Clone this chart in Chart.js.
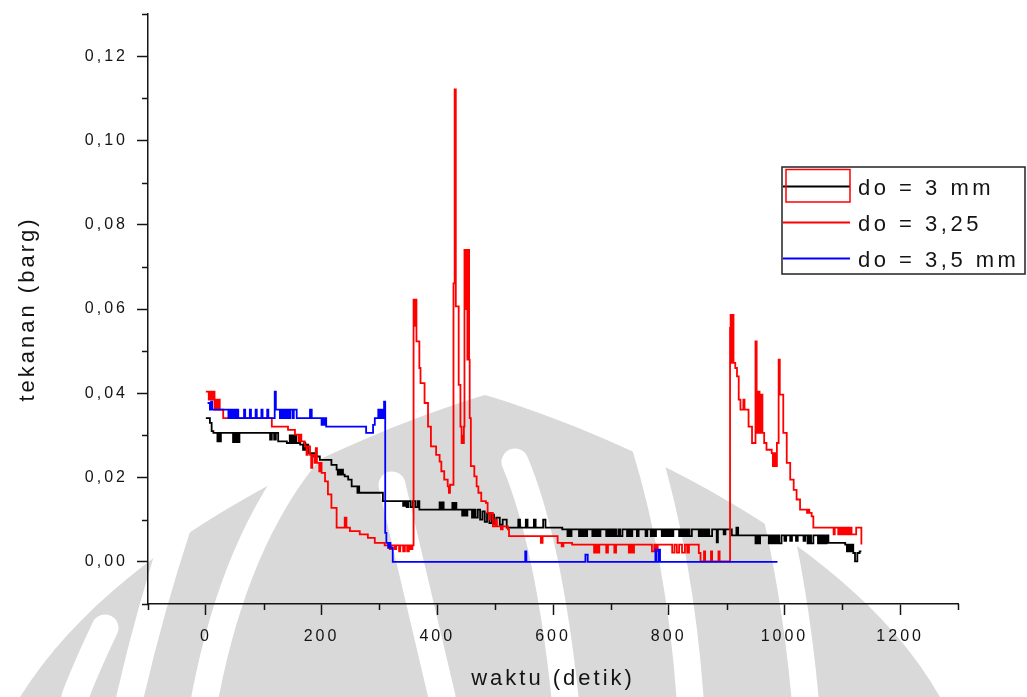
<!DOCTYPE html>
<html>
<head>
<meta charset="utf-8">
<script src="https://cdn.jsdelivr.net/npm/chart.js@4.4.1/dist/chart.umd.min.js"></script>
<style>
  html, body { margin: 0; padding: 0; background: #fff; }
  #wrap { width: 1027px; height: 697px; position: relative; }
</style>
</head>
<body>
<div id="wrap"><canvas id="grafTekanan"></canvas></div>
<script>
// waktu (detik), tekanan (barg)
var black3mm = [
  [0, .0341], [7, .0330], [10, .0310], [13, .0306], [20, .0286], [22, .0306], [24, .0286], [26, .0306],
  [47, .0284], [49, .0306], [52, .0284], [54, .0306], [56, .0284], [58, .0306],
  [111, .0290], [114, .0306], [118, .0290], [121, .0306], [125, .0286], [140, .0282],
  [145, .0300], [147, .0282], [149, .0300], [151, .0282], [153, .0300], [156, .0282],
  [163, .0278], [168, .0266], [170, .0282], [172, .0266], [174, .0278], [177, .0258],
  [187, .0250], [189, .0258], [191, .0250], [197, .0242], [217, .0230], [226, .0219],
  [228, .0207], [230, .0219], [232, .0207], [234, .0219], [237, .0207], [240, .0203],
  [246, .0195], [252, .0179], [262, .0164], [263, .0179], [265, .0164], [306, .0144],
  [341, .0133], [344, .0144], [347, .0130], [350, .0144], [354, .0130], [358, .0144],
  [362, .0130], [366, .0144], [369, .0124], [404, .0141], [406, .0124], [408, .0141],
  [411, .0124], [426, .0140], [428, .0124], [431, .0140], [433, .0124], [443, .0110],
  [446, .0124], [449, .0110], [452, .0124], [460, .0105], [463, .0124], [466, .0105],
  [470, .0124], [474, .0100], [478, .0120], [482, .0095], [486, .0115], [490, .0092],
  [494, .0112], [498, .0090], [502, .0105], [508, .0088], [513, .0100], [520, .0081],
  [540, .0100], [543, .0081], [553, .0100], [556, .0081], [567, .0100], [570, .0081],
  [583, .0100], [587, .0081], [616, .0077],
  [625, .0061], [628, .0077], [630, .0061], [632, .0077],
  [645, .0061], [648, .0077], [651, .0061], [654, .0077], [657, .0061], [659, .0077],
  [668, .0061], [671, .0077], [674, .0061], [677, .0077], [680, .0061], [682, .0077],
  [692, .0061], [695, .0077], [698, .0061], [701, .0077], [704, .0061], [706, .0077],
  [709, .0061], [713, .0077], [716, .0061], [720, .0077], [728, .0061], [731, .0077],
  [734, .0061], [737, .0077], [745, .0061], [748, .0077], [760, .0061], [763, .0077],
  [769, .0061], [772, .0077], [775, .0061], [778, .0077],
  [788, .0061], [791, .0077], [794, .0061], [797, .0077], [800, .0061], [803, .0077], [806, .0061], [808, .0077],
  [818, .0061], [821, .0077], [824, .0061], [827, .0077], [830, .0061], [833, .0077], [836, .0061], [840, .0077],
  [852, .0061], [855, .0077], [858, .0061], [861, .0077], [864, .0061], [867, .0077], [870, .0061], [875, .0077],
  [883, .0046], [885, .0077], [895, .0065], [898, .0077], [909, .0063], [917, .0081], [920, .0063],
  [950, .0044], [952, .0063], [955, .0044], [958, .0063],
  [973, .0044], [976, .0063], [979, .0044], [982, .0063], [985, .0044], [988, .0063], [991, .0044], [995, .0063],
  [1000, .0050], [1003, .0063], [1010, .0050], [1013, .0063], [1020, .0050], [1023, .0063],
  [1033, .0050], [1036, .0063], [1040, .0044], [1043, .0063], [1046, .0044], [1050, .0063],
  [1058, .0044], [1061, .0063], [1064, .0044], [1067, .0063], [1070, .0044], [1073, .0063],
  [1076, .0045], [1105, .0041], [1108, .0025], [1110, .0041], [1113, .0025], [1116, .0041],
  [1119, .0021], [1122, .0001], [1126, .0021], [1130, .0025], [1133, .0025]
];

var red325 = [
  [0, .0404], [5, .0385], [8, .0404], [10, .0385], [13, .0404], [15, .0361], [17, .0385], [19, .0361],
  [22, .0385], [24, .0361], [30, .0341], [114, .0321], [142, .0313], [154, .0302], [160, .0286],
  [162, .0302], [165, .0286], [171, .0274], [174, .0254], [176, .0274], [180, .0254], [182, .0223],
  [184, .0254], [188, .0235], [190, .0270], [192, .0235], [196, .0215], [198, .0235], [200, .0211],
  [206, .0191], [211, .0160], [217, .0128], [226, .0081], [240, .0105], [243, .0081], [249, .0073],
  [266, .0065], [280, .0057], [292, .0045], [309, .0039], [318, .0030], [321, .0039], [326, .0030],
  [329, .0039], [334, .0025], [336, .0039], [341, .0025], [344, .0039], [348, .0025], [351, .0039],
  [354, .0030], [357, .0039],
  [359, .0622], [361, .0560], [362, .0622], [364, .0523], [369, .0460], [371, .0424], [378, .0377],
  [384, .0321], [389, .0274], [398, .0254], [404, .0238], [407, .0215], [412, .0195], [418, .0179],
  [420, .0164], [422, .0183], [428, .0661], [430, .1121], [432, .0606], [437, .0420], [440, .0321],
  [442, .0282], [443, .0300], [444, .0282], [446, .0321], [447, .0740], [449, .0600], [450, .0740],
  [452, .0480], [454, .0740], [455, .0480], [456, .0341], [458, .0227], [464, .0203], [468, .0179],
  [471, .0164], [476, .0144], [484, .0140], [487, .0116], [490, .0100], [492, .0116], [496, .0084],
  [500, .0100], [503, .0084], [510, .0077], [513, .0084], [522, .0077], [524, .0061], [579, .0045],
  [582, .0061], [608, .0045], [615, .0037], [618, .0045], [633, .0041],
  [671, .0022], [674, .0041], [677, .0022], [680, .0041], [692, .0022], [695, .0041], [706, .0022], [709, .0041],
  [731, .0022], [734, .0041], [737, .0022], [740, .0041], [771, .0025], [775, .0041], [778, .0025], [781, .0041],
  [806, .0022], [810, .0041], [814, .0022], [818, .0041], [823, .0022], [828, .0041], [832, .0022], [835, .0041],
  [852, .0021], [855, .0001], [861, .0025], [863, .0001], [873, .0025], [875, .0001], [886, .0025], [888, .0001],
  [906, .0555], [907, .0586], [909, .0472], [910, .0586], [912, .0472], [915, .0460], [918, .0440],
  [921, .0385], [924, .0361], [929, .0385], [931, .0361], [938, .0321], [944, .0282], [950, .0523],
  [952, .0404], [953, .0306], [955, .0404], [957, .0306], [959, .0397], [962, .0306], [965, .0282],
  [969, .0266], [978, .0258], [980, .0227], [982, .0258], [984, .0227], [987, .0282], [990, .0480],
  [992, .0397], [998, .0306], [1004, .0235], [1010, .0195], [1016, .0171], [1021, .0148], [1027, .0124],
  [1039, .0116], [1041, .0124], [1043, .0116], [1047, .0108], [1050, .0081], [1085, .0065],
  [1087, .0081], [1093, .0065], [1095, .0081], [1098, .0065], [1101, .0081], [1104, .0065],
  [1107, .0081], [1110, .0065], [1113, .0081], [1116, .0065], [1124, .0081], [1133, .0041]
];

var blue35mm = [
  [3, .0377], [7, .0361], [9, .0380], [11, .0361],
  [39, .0341], [41, .0361], [43, .0341], [45, .0361], [47, .0341], [49, .0361], [51, .0341], [53, .0361], [56, .0341],
  [66, .0361], [68, .0341], [76, .0361], [78, .0341], [86, .0361], [88, .0341], [96, .0361], [98, .0341],
  [106, .0361], [108, .0341], [119, .0404], [121, .0361],
  [128, .0341], [130, .0361], [132, .0341], [134, .0361], [136, .0341], [138, .0361], [140, .0341],
  [142, .0361], [144, .0341], [146, .0361], [150, .0341], [152, .0361], [157, .0341],
  [180, .0361], [183, .0341], [200, .0325], [202, .0341], [204, .0325], [206, .0341], [208, .0321],
  [277, .0306], [289, .0325], [292, .0341], [298, .0361], [300, .0341], [303, .0361], [305, .0341],
  [308, .0380], [310, .0069], [312, .0045], [315, .0033], [317, .0045], [319, .0033], [323, .0000],
  [552, .0025], [554, .0000], [656, .0017], [660, .0000], [777, .0029], [779, .0000], [783, .0029],
  [785, .0000], [988, .0000]
];

var seriesNames = ['do = 3 mm', 'do = 3,25', 'do = 3,5 mm'];
var seriesColors = ['#000000', '#ff0000', '#0000ff'];

var xTickValues = [0, 200, 400, 600, 800, 1000, 1200];
var xTickLabels = ['0', '200', '400', '600', '800', '1000', '1200'];
var xMinorTicks = [-100, 100, 300, 500, 700, 900, 1100, 1300];
var yTickValues = [0, 0.02, 0.04, 0.06, 0.08, 0.10, 0.12];
var yTickLabels = ['0,00', '0,02', '0,04', '0,06', '0,08', '0,10', '0,12'];
var yMinorTicks = [-0.01, 0.01, 0.03, 0.05, 0.07, 0.09, 0.11, 0.13];

var FONT = "'Liberation Sans', Arial, sans-serif";
var TEXT = '#141414';

function toPoints(rows) {
  return rows.map(function (r) { return { x: r[0], y: r[1] }; });
}

// latar: logo samar di belakang grafik
var watermark = {
  id: 'watermark',
  beforeDraw: function (chart) {
    var c = chart.ctx;
    c.save();
    c.fillStyle = '#d9d9d9';
    c.beginPath();
    c.moveTo(20, 697);
    c.bezierCurveTo(130, 520, 400, 420, 485, 395);
    c.bezierCurveTo(570, 420, 840, 520, 940, 697);
    c.closePath();
    c.fill();
    c.strokeStyle = '#ffffff';
    c.lineCap = 'round';
    c.lineWidth = 27;
    c.beginPath();
    c.moveTo(392, 485); c.quadraticCurveTo(410, 560, 442, 697);
    c.moveTo(515, 462); c.quadraticCurveTo(548, 540, 565, 697);
    c.moveTo(310, 450); c.quadraticCurveTo(235, 540, 205, 697);
    c.moveTo(645, 445); c.quadraticCurveTo(680, 560, 690, 697);
    c.moveTo(772, 495); c.quadraticCurveTo(795, 590, 805, 697);
    c.moveTo(178, 525); c.quadraticCurveTo(150, 610, 130, 697);
    c.moveTo(105, 628); c.quadraticCurveTo(85, 670, 75, 697);
    c.stroke();
    c.restore();
    c.letterSpacing = '3px';
  }
};

// garis skala kecil + legenda berbingkai
var extras = {
  id: 'extras',
  afterDraw: function (chart) {
    var c = chart.ctx;
    var xs = chart.scales.x, ys = chart.scales.y;
    var a = chart.chartArea;
    c.save();
    c.strokeStyle = TEXT;
    c.lineWidth = 1.5;
    c.beginPath();
    xMinorTicks.forEach(function (v) {
      var px = Math.round(xs.getPixelForValue(v)) + 0.5;
      c.moveTo(px, a.bottom); c.lineTo(px, a.bottom + 6);
    });
    yMinorTicks.forEach(function (v) {
      var py = Math.round(ys.getPixelForValue(v)) + 0.5;
      c.moveTo(a.left - 6, py); c.lineTo(a.left, py);
    });
    c.stroke();

    // legenda
    c.fillStyle = '#ffffff';
    c.fillRect(782, 167, 243, 107);
    c.strokeStyle = '#222';
    c.lineWidth = 1.5;
    c.strokeRect(782, 167, 243, 107);
    var rowY = [186, 222, 258];
    c.font = '22px ' + FONT;
    c.letterSpacing = '3.5px';
    c.textBaseline = 'alphabetic';
    for (var i = 0; i < 3; i++) {
      c.strokeStyle = seriesColors[i];
      c.lineWidth = 1.8;
      c.beginPath();
      c.moveTo(783, rowY[i] + 0.5); c.lineTo(850, rowY[i] + 0.5);
      c.stroke();
      c.fillStyle = TEXT;
      c.fillText(seriesNames[i], 858, rowY[i] + 9);
    }
    c.strokeStyle = '#ff0000';
    c.lineWidth = 1.5;
    c.strokeRect(786, 169.5, 64, 32.5);
    c.restore();
  }
};

new Chart(document.getElementById('grafTekanan'), {
  type: 'line',
  data: {
    datasets: [
      { label: seriesNames[0], data: toPoints(black3mm), borderColor: seriesColors[0], order: 3 },
      { label: seriesNames[1], data: toPoints(red325), borderColor: seriesColors[1], order: 2 },
      { label: seriesNames[2], data: toPoints(blue35mm), borderColor: seriesColors[2], order: 1 }
    ]
  },
  options: {
    responsive: true,
    maintainAspectRatio: false,
    animation: false,
    parsing: false,
    datasets: {
      line: { stepped: true, borderWidth: 1.8, pointRadius: 0, fill: false, tension: 0 }
    },
    layout: { padding: { left: 10, top: 14, right: 69, bottom: 0 } },
    plugins: { legend: { display: false }, tooltip: { enabled: false } },
    scales: {
      x: {
        type: 'linear',
        min: -100,
        max: 1300,
        afterBuildTicks: function (s) { s.ticks = xTickValues.map(function (v) { return { value: v }; }); },
        afterFit: function (s) { s.height = 93; s.paddingLeft = 0; s.paddingRight = 0; },
        ticks: {
          autoSkip: false, maxRotation: 0, padding: 12, color: TEXT,
          font: { family: FONT, size: 16 },
          callback: function (v, i) { return xTickLabels[i]; }
        },
        grid: { drawOnChartArea: false, tickLength: 11, tickColor: TEXT, tickWidth: 1.5 },
        border: { display: true, color: TEXT, width: 1.5 },
        title: { display: true, text: 'waktu (detik)', color: TEXT, font: { family: FONT, size: 22 }, padding: { top: 0, bottom: 5 } }
      },
      y: {
        type: 'linear',
        min: -0.01,
        max: 0.13,
        afterBuildTicks: function (s) { s.ticks = yTickValues.map(function (v) { return { value: v }; }); },
        afterFit: function (s) { s.width = 138; s.paddingTop = 0; s.paddingBottom = 0; },
        ticks: {
          autoSkip: false, padding: 9, color: TEXT,
          font: { family: FONT, size: 16 },
          callback: function (v, i) { return yTickLabels[i]; }
        },
        grid: { drawOnChartArea: false, tickLength: 11, tickColor: TEXT, tickWidth: 1.5 },
        border: { display: true, color: TEXT, width: 1.5 },
        title: { display: true, text: 'tekanan (barg)', color: TEXT, font: { family: FONT, size: 22 }, padding: { top: 5, bottom: 0 } }
      }
    }
  },
  plugins: [watermark, extras]
});
</script>
</body>
</html>
